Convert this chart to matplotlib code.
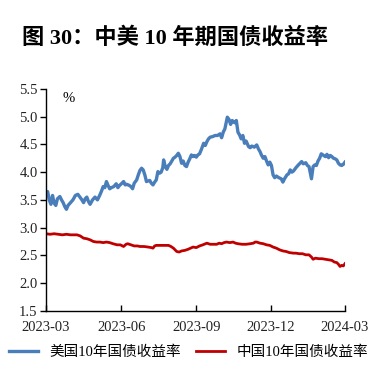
import matplotlib
matplotlib.use("Agg")
import matplotlib.pyplot as plt
import matplotlib.dates as mdates
import pandas as pd

# ---- data (day offset from 2023-03-01, yield %) ----
us_days = [0, 2, 4, 6, 8, 10, 12, 14, 17, 19, 21, 23, 25, 27, 30, 33, 36, 39, 42, 44,
           46, 48, 50, 52, 54, 57, 60, 63, 66, 68, 70, 72, 74, 76, 78, 80, 83, 86, 88, 90,
           93, 95, 97, 99, 102, 104, 106, 108, 111, 113, 115, 117, 119, 121, 123, 125, 127,
           129, 131, 133, 135, 137, 139, 141, 143, 144, 146, 148, 150, 152, 154, 156, 158,
           160, 162, 164, 166, 168, 170, 172, 174, 176, 178, 180, 182, 184, 186, 188, 190,
           193, 195, 197, 199, 201, 204, 207, 210, 213, 215, 217, 219, 221, 222, 224, 226,
           228, 230, 231, 233, 235, 237, 239, 241, 243, 245, 248, 250, 252, 255, 258, 260,
           262, 264, 266, 268, 270, 272, 274, 276, 278, 280, 282, 285, 288, 290, 292, 295,
           297, 299, 301, 303, 306, 309, 311, 313, 315, 318, 320, 322, 324, 325, 327, 329,
           331, 333, 335, 337, 340, 342, 344, 346, 348, 350, 352, 354, 356, 358, 360, 362,
           364, 366]
us_vals = [3.62, 3.65, 3.50, 3.42, 3.58, 3.44, 3.40, 3.52, 3.56, 3.50, 3.45, 3.38, 3.33,
           3.40, 3.45, 3.50, 3.58, 3.60, 3.54, 3.50, 3.45, 3.52, 3.55, 3.47, 3.42, 3.50,
           3.55, 3.50, 3.59, 3.66, 3.74, 3.72, 3.83, 3.76, 3.70, 3.72, 3.74, 3.79, 3.72,
           3.76, 3.80, 3.83, 3.77, 3.78, 3.76, 3.74, 3.70, 3.80, 3.86, 3.95, 4.03, 4.07,
           4.04, 3.95, 3.83, 3.84, 3.85, 3.80, 3.77, 3.82, 3.86, 4.01, 3.98, 4.00, 4.08,
           4.22, 4.10, 4.05, 4.12, 4.15, 4.20, 4.25, 4.27, 4.30, 4.34, 4.28, 4.16, 4.20,
           4.12, 4.10, 4.18, 4.24, 4.31, 4.28, 4.30, 4.27, 4.31, 4.33, 4.40, 4.52, 4.48,
           4.55, 4.60, 4.63, 4.64, 4.66, 4.66, 4.69, 4.62, 4.72, 4.78, 4.92, 4.99, 4.95,
           4.86, 4.93, 4.90, 4.89, 4.93, 4.72, 4.67, 4.60, 4.66, 4.52, 4.56, 4.46, 4.44,
           4.47, 4.45, 4.49, 4.42, 4.37, 4.30, 4.25, 4.28, 4.20, 4.13, 4.18, 4.12, 3.95,
           3.90, 3.93, 3.90, 3.88, 3.82, 3.88, 3.95, 3.97, 4.04, 4.00, 4.02, 4.08, 4.13,
           4.16, 4.19, 4.15, 4.17, 4.12, 4.10, 3.95, 3.88, 4.10, 4.13, 4.12, 4.20, 4.25,
           4.33, 4.30, 4.28, 4.32, 4.26, 4.30, 4.28, 4.25, 4.24, 4.22, 4.16, 4.13, 4.12,
           4.14, 4.18]

cn_days = [0, 5, 10, 15, 20, 25, 30, 35, 38, 42, 46, 50, 54, 58, 62, 66, 70, 74, 78, 82,
           87, 91, 95, 98, 100, 104, 108, 112, 115, 120, 125, 129, 131, 133, 135, 140, 145,
           150, 153, 156, 160, 163, 166, 170, 174, 177, 180, 184, 188, 192, 197, 201, 205,
           209, 212, 215, 218, 221, 225, 229, 232, 235, 240, 245, 250, 254, 256, 258, 262,
           266, 270, 274, 278, 282, 286, 290, 294, 298, 303, 306, 310, 314, 318, 322, 325,
           327, 330, 334, 338, 342, 346, 350, 353, 356, 358, 360, 362, 364, 366]
cn_vals = [2.89, 2.88, 2.89, 2.88, 2.87, 2.88, 2.87, 2.87, 2.87, 2.85, 2.81, 2.80, 2.78,
           2.75, 2.74, 2.74, 2.73, 2.74, 2.73, 2.71, 2.69, 2.69, 2.66, 2.70, 2.71, 2.69,
           2.67, 2.67, 2.66, 2.66, 2.65, 2.64, 2.63, 2.67, 2.68, 2.68, 2.68, 2.68, 2.66,
           2.63, 2.57, 2.56, 2.58, 2.59, 2.61, 2.63, 2.65, 2.64, 2.67, 2.69, 2.72, 2.70,
           2.70, 2.70, 2.72, 2.71, 2.73, 2.74, 2.73, 2.74, 2.72, 2.71, 2.70, 2.70, 2.71,
           2.72, 2.74, 2.74, 2.72, 2.71, 2.69, 2.68, 2.65, 2.63, 2.60, 2.58, 2.57, 2.55,
           2.54, 2.54, 2.53, 2.53, 2.51, 2.51, 2.47, 2.43, 2.45, 2.44, 2.44, 2.43, 2.42,
           2.41, 2.38, 2.37, 2.34, 2.30, 2.32, 2.31, 2.35]

start_date = "2023-03-01"
tick_dates = ["2023-03-01", "2023-06-01", "2023-09-01", "2023-12-01", "2024-03-01"]
y_ticks = [1.5, 2.0, 2.5, 3.0, 3.5, 4.0, 4.5, 5.0, 5.5]
title = "图 30：中美 10 年期国债收益率"
us_label = "美国10年国债收益率"
cn_label = "中国10年国债收益率"

base = pd.Timestamp(start_date)
us_dates = [base + pd.Timedelta(days=d) for d in us_days]
cn_dates = [base + pd.Timedelta(days=d) for d in cn_days]

serif = ["Liberation Serif", "Noto Sans CJK SC"]

fig = plt.figure(figsize=(3.77, 3.75), dpi=100)
ax = fig.add_axes([0.122, 0.171, 0.793, 0.592])

ax.plot(us_dates, us_vals, color="#4A7EBB", lw=2.4, label=us_label, solid_joinstyle="round")
ax.plot(cn_dates, cn_vals, color="#C00000", lw=2.0, label=cn_label, solid_joinstyle="round")

ax.set_xlim(pd.Timestamp(tick_dates[0]), pd.Timestamp(tick_dates[-1]))
ax.set_ylim(1.5, 5.5)
ax.set_yticks(y_ticks)
ax.set_yticklabels([f"{v:.1f}" for v in y_ticks])
ax.set_xticks([pd.Timestamp(t) for t in tick_dates])
ax.xaxis.set_major_formatter(mdates.DateFormatter("%Y-%m"))

for s in ["top", "right"]:
    ax.spines[s].set_visible(False)
for s in ["left", "bottom"]:
    ax.spines[s].set_linewidth(1.0)
    ax.spines[s].set_color("black")

ax.tick_params(axis="y", direction="out", length=4, width=1, pad=2)
ax.tick_params(axis="x", direction="in", length=4, width=1, pad=7)
for lab in ax.get_xticklabels() + ax.get_yticklabels():
    lab.set_fontfamily(serif)
    lab.set_fontsize(10.5)
    lab.set_color("#222222")

ax.text(0.055, 0.985, "%", transform=ax.transAxes, fontsize=10.5, family=serif,
        va="top", ha="left")

fig.text(0.058, 0.898, title, fontsize=16, fontweight="bold", family=serif,
         ha="left", va="center")

leg = fig.legend(loc="center", bbox_to_anchor=(0.5, 0.061), ncol=2, frameon=False,
                 prop={"family": serif, "size": 10.5}, handlelength=2.0,
                 columnspacing=1.0, handletextpad=0.8)

fig.savefig("out.png", dpi=100)
